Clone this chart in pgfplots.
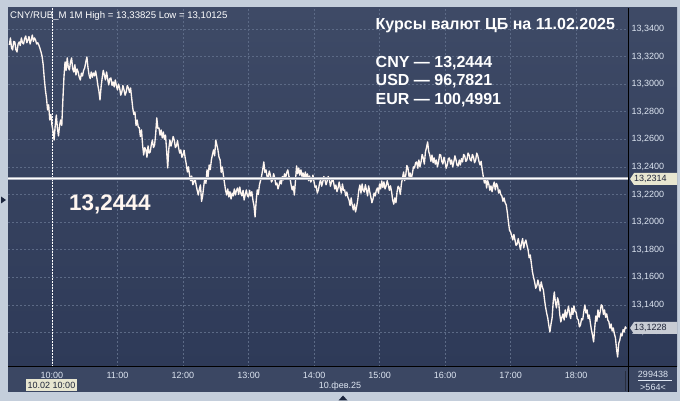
\documentclass[border=0pt]{standalone}
\usepackage{fontspec}
\setmainfont{Liberation Sans}
\usepackage{pgfplots}
\pgfplotsset{compat=1.18}
\definecolor{outer}{RGB}{196,206,219}
\definecolor{paneltop}{RGB}{62,74,102}
\definecolor{panelbot}{RGB}{46,58,88}
\definecolor{bottompanel}{RGB}{59,71,99}
\definecolor{gridc}{RGB}{92,106,134}
\definecolor{labelc}{RGB}{222,230,242}
\definecolor{linec}{RGB}{255,246,240}
\definecolor{tagbeige}{RGB}{232,230,208}
\definecolor{taggrey}{RGB}{200,204,212}
\definecolor{tagtext}{RGB}{30,36,56}
\definecolor{levelgrey}{RGB}{176,180,192}
\definecolor{darkmark}{RGB}{28,38,62}
\definecolor{sepgrey}{RGB}{40,46,62}
\begin{document}
\begin{tikzpicture}[x=1pt,y=1pt]
\useasboundingbox (0,0) rectangle (680,401);
\fill[outer] (0,0) rectangle (680,401);
\fill[bottompanel] (8,9) rectangle (677,34.5);
\shade[top color=paneltop,bottom color=panelbot] (8,34.5) rectangle (677,393);
\begin{axis}[
  at={(8pt,34pt)}, anchor=south west,
  scale only axis, width=620pt, height=359pt,
  xmin=559.76, xmax=1127.5, ymin=13.0949, ymax=13.3552,
  axis line style={draw=none},
  major tick length=0pt,
  xtick={600,660,720,780,840,900,960,1020,1080},
  xticklabels={10:00,11:00,12:00,13:00,14:00,15:00,16:00,17:00,18:00},
  ytick={13.12,13.14,13.16,13.18,13.20,13.22,13.24,13.26,13.28,13.30,13.32,13.34},
  grid=major,
  major grid style={gridc, dash pattern=on 2pt off 2pt, line width=0.5pt},
  yticklabel pos=right,
  /pgf/number format/assume math mode=true,
  ticklabel style={font=\fontsize{9}{10}\selectfont, text=labelc},
  xticklabel style={anchor=center, yshift=-8pt},
  yticklabel style={anchor=west, /pgf/number format/fixed, /pgf/number format/fixed zerofill, /pgf/number format/precision=4, /pgf/number format/use comma, /pgf/number format/1000 sep={}},
]
\draw[white, line width=0.8pt, dash pattern=on 1.5pt off 1.5pt] (axis cs:600,13.0949) -- (axis cs:600,13.3552);
\addplot[linec, line width=1.35pt, line join=round, no marks] coordinates {
(561,13.3284)(562,13.3335)(563,13.3262)(564,13.3248)(565,13.3310)(566,13.3306)(567,13.3250)(568,13.3233)(569,13.3290)(570,13.3306)
(571,13.3280)(572,13.3335)(573,13.3300)(574,13.3291)(575,13.3330)(576,13.3349)(577,13.3300)(578,13.3320)(579,13.3345)(580,13.3291)
(581,13.3320)(582,13.3356)(583,13.3310)(584,13.3335)(585,13.3320)(586,13.3291)(587,13.3300)(588,13.3284)(589,13.3260)(590,13.3233)
(591,13.3200)(592,13.3139)(593,13.3040)(594,13.2958)(595,13.2900)(596,13.2813)(597,13.2850)(598,13.2740)(599,13.2780)(600,13.2704)
(601,13.2660)(602,13.2595)(603,13.2700)(604,13.2776)(605,13.2680)(606,13.2624)(607,13.2700)(608,13.2740)(609,13.2700)(610,13.2885)
(611,13.3050)(612,13.3161)(613,13.3100)(614,13.3190)(615,13.3120)(616,13.3103)(617,13.3160)(618,13.3190)(619,13.3110)(620,13.3088)
(621,13.3140)(622,13.3066)(623,13.3110)(624,13.3088)(625,13.3050)(626,13.3030)(627,13.3080)(628,13.3059)(629,13.3100)(630,13.3117)
(631,13.3160)(632,13.3197)(633,13.3120)(634,13.3066)(635,13.3040)(636,13.3088)(637,13.3050)(638,13.3081)(639,13.3060)(640,13.3095)
(641,13.3050)(642,13.2994)(643,13.2950)(644,13.2885)(645,13.2980)(646,13.3045)(647,13.3100)(648,13.3066)(649,13.3030)(650,13.3088)
(651,13.3040)(652,13.2994)(653,13.3040)(654,13.3045)(655,13.2990)(656,13.3016)(657,13.2980)(658,13.3030)(659,13.2990)(660,13.2958)
(661,13.3000)(662,13.2972)(663,13.2920)(664,13.2943)(665,13.2990)(666,13.2958)(667,13.2920)(668,13.2943)(669,13.2990)(670,13.2972)
(671,13.2940)(672,13.2972)(673,13.2900)(674,13.2827)(675,13.2780)(676,13.2798)(677,13.2700)(678,13.2740)(679,13.2690)(680,13.2682)
(681,13.2620)(682,13.2668)(683,13.2560)(684,13.2486)(685,13.2540)(686,13.2523)(687,13.2470)(688,13.2552)(689,13.2500)(690,13.2508)
(691,13.2560)(692,13.2595)(693,13.2540)(694,13.2559)(695,13.2640)(696,13.2755)(697,13.2680)(698,13.2682)(699,13.2630)(700,13.2668)
(701,13.2610)(702,13.2653)(703,13.2600)(704,13.2631)(705,13.2520)(706,13.2392)(707,13.2530)(708,13.2595)(709,13.2550)(710,13.2581)
(711,13.2620)(712,13.2595)(713,13.2540)(714,13.2552)(715,13.2590)(716,13.2537)(717,13.2500)(718,13.2523)(719,13.2470)(720,13.2486)
(721,13.2520)(722,13.2465)(723,13.2420)(724,13.2363)(725,13.2400)(726,13.2341)(727,13.2300)(728,13.2334)(729,13.2270)(730,13.2291)
(731,13.2320)(732,13.2269)(733,13.2230)(734,13.2196)(735,13.2240)(736,13.2269)(737,13.2150)(738,13.2189)(739,13.2260)(740,13.2320)
(741,13.2280)(742,13.2378)(743,13.2330)(744,13.2414)(745,13.2380)(746,13.2450)(747,13.2490)(748,13.2523)(749,13.2480)(750,13.2595)
(751,13.2560)(752,13.2523)(753,13.2470)(754,13.2450)(755,13.2360)(756,13.2399)(757,13.2340)(758,13.2283)(759,13.2230)(760,13.2196)
(761,13.2240)(762,13.2182)(763,13.2220)(764,13.2167)(765,13.2210)(766,13.2189)(767,13.2240)(768,13.2196)(769,13.2230)(770,13.2247)
(771,13.2200)(772,13.2254)(773,13.2210)(774,13.2189)(775,13.2230)(776,13.2160)(777,13.2200)(778,13.2233)(779,13.2190)(780,13.2182)
(781,13.2230)(782,13.2189)(783,13.2220)(784,13.2160)(785,13.2120)(786,13.2037)(787,13.2150)(788,13.2233)(789,13.2200)(790,13.2269)
(791,13.2300)(792,13.2334)(793,13.2380)(794,13.2436)(795,13.2360)(796,13.2378)(797,13.2330)(798,13.2320)(799,13.2370)(800,13.2341)
(801,13.2290)(802,13.2305)(803,13.2350)(804,13.2320)(805,13.2270)(806,13.2283)(807,13.2240)(808,13.2269)(809,13.2300)(810,13.2276)
(811,13.2330)(812,13.2305)(813,13.2350)(814,13.2320)(815,13.2360)(816,13.2378)(817,13.2330)(818,13.2320)(819,13.2270)(820,13.2233)
(821,13.2260)(822,13.2196)(823,13.2300)(824,13.2407)(825,13.2350)(826,13.2392)(827,13.2340)(828,13.2378)(829,13.2330)(830,13.2356)
(831,13.2310)(832,13.2363)(833,13.2320)(834,13.2349)(835,13.2300)(836,13.2334)(837,13.2290)(838,13.2305)(839,13.2340)(840,13.2291)
(841,13.2250)(842,13.2262)(843,13.2210)(844,13.2233)(845,13.2280)(846,13.2305)(847,13.2260)(848,13.2291)(849,13.2330)(850,13.2305)
(851,13.2270)(852,13.2298)(853,13.2330)(854,13.2312)(855,13.2260)(856,13.2291)(857,13.2320)(858,13.2283)(859,13.2240)(860,13.2269)
(861,13.2220)(862,13.2247)(863,13.2290)(864,13.2247)(865,13.2210)(866,13.2276)(867,13.2230)(868,13.2233)(869,13.2190)(870,13.2218)
(871,13.2180)(872,13.2160)(873,13.2120)(874,13.2175)(875,13.2120)(876,13.2088)(877,13.2130)(878,13.2073)(879,13.2110)(880,13.2160)
(881,13.2230)(882,13.2269)(883,13.2210)(884,13.2276)(885,13.2230)(886,13.2218)(887,13.2270)(888,13.2233)(889,13.2190)(890,13.2262)
(891,13.2220)(892,13.2182)(893,13.2140)(894,13.2167)(895,13.2210)(896,13.2189)(897,13.2230)(898,13.2247)(899,13.2210)(900,13.2276)
(901,13.2240)(902,13.2298)(903,13.2250)(904,13.2291)(905,13.2240)(906,13.2262)(907,13.2300)(908,13.2269)(909,13.2230)(910,13.2262)
(911,13.2220)(912,13.2160)(913,13.2130)(914,13.2175)(915,13.2140)(916,13.2218)(917,13.2260)(918,13.2247)(919,13.2200)(920,13.2276)
(921,13.2320)(922,13.2363)(923,13.2300)(924,13.2341)(925,13.2410)(926,13.2392)(927,13.2330)(928,13.2356)(929,13.2310)(930,13.2349)
(931,13.2400)(932,13.2392)(933,13.2430)(934,13.2436)(935,13.2390)(936,13.2450)(937,13.2400)(938,13.2436)(939,13.2490)(940,13.2465)
(941,13.2420)(942,13.2508)(943,13.2540)(944,13.2581)(945,13.2510)(946,13.2486)(947,13.2440)(948,13.2486)(949,13.2430)(950,13.2465)
(951,13.2420)(952,13.2450)(953,13.2400)(954,13.2436)(955,13.2490)(956,13.2486)(957,13.2440)(958,13.2421)(959,13.2470)(960,13.2436)
(961,13.2390)(962,13.2414)(963,13.2460)(964,13.2465)(965,13.2420)(966,13.2450)(967,13.2400)(968,13.2436)(969,13.2480)(970,13.2450)
(971,13.2410)(972,13.2407)(973,13.2450)(974,13.2414)(975,13.2460)(976,13.2436)(977,13.2490)(978,13.2479)(979,13.2440)(980,13.2450)
(981,13.2500)(982,13.2486)(983,13.2450)(984,13.2443)(985,13.2490)(986,13.2472)(987,13.2430)(988,13.2450)(989,13.2500)(990,13.2479)
(991,13.2440)(992,13.2414)(993,13.2440)(994,13.2378)(995,13.2330)(996,13.2283)(997,13.2320)(998,13.2247)(999,13.2300)(1000,13.2276)
(1001,13.2230)(1002,13.2262)(1003,13.2220)(1004,13.2262)(1005,13.2290)(1006,13.2233)(1007,13.2280)(1008,13.2262)(1009,13.2210)(1010,13.2233)
(1011,13.2200)(1012,13.2189)(1013,13.2150)(1014,13.2175)(1015,13.2140)(1016,13.2124)(1017,13.2070)(1018,13.2001)(1019,13.1940)(1020,13.1928)
(1021,13.1900)(1022,13.1870)(1023,13.1910)(1024,13.1870)(1025,13.1830)(1026,13.1841)(1027,13.1880)(1028,13.1841)(1029,13.1800)(1030,13.1848)
(1031,13.1880)(1032,13.1812)(1033,13.1850)(1034,13.1870)(1035,13.1830)(1036,13.1798)(1037,13.1740)(1038,13.1761)(1039,13.1700)(1040,13.1638)
(1041,13.1600)(1042,13.1566)(1043,13.1520)(1044,13.1537)(1045,13.1580)(1046,13.1544)(1047,13.1500)(1048,13.1566)(1049,13.1530)(1050,13.1508)
(1051,13.1440)(1052,13.1384)(1053,13.1340)(1054,13.1305)(1055,13.1250)(1056,13.1203)(1057,13.1260)(1058,13.1305)(1059,13.1420)(1060,13.1493)
(1061,13.1420)(1062,13.1377)(1063,13.1450)(1064,13.1421)(1065,13.1330)(1066,13.1276)(1067,13.1310)(1068,13.1334)(1069,13.1290)(1070,13.1363)
(1071,13.1310)(1072,13.1348)(1073,13.1390)(1074,13.1334)(1075,13.1300)(1076,13.1377)(1077,13.1330)(1078,13.1392)(1079,13.1350)(1080,13.1348)
(1081,13.1300)(1082,13.1290)(1083,13.1240)(1084,13.1254)(1085,13.1300)(1086,13.1290)(1087,13.1350)(1088,13.1399)(1089,13.1340)(1090,13.1363)
(1091,13.1300)(1092,13.1326)(1093,13.1270)(1094,13.1218)(1095,13.1180)(1096,13.1131)(1097,13.1230)(1098,13.1319)(1099,13.1280)(1100,13.1363)
(1101,13.1310)(1102,13.1348)(1103,13.1400)(1104,13.1392)(1105,13.1330)(1106,13.1363)(1107,13.1310)(1108,13.1334)(1109,13.1290)(1110,13.1276)
(1111,13.1230)(1112,13.1261)(1113,13.1210)(1114,13.1232)(1115,13.1190)(1116,13.1160)(1117,13.1080)(1118,13.1022)(1119,13.1120)(1120,13.1145)
(1121,13.1190)(1122,13.1174)(1123,13.1220)(1124,13.1203)(1125,13.1240)(1126,13.1228)
};
\draw[levelgrey, line width=3.2pt] (axis cs:559.76,13.2314) -- (axis cs:1127.5,13.2314);
\draw[white, line width=1.4pt] (axis cs:559.76,13.2314) -- (axis cs:1127.5,13.2314);
\end{axis}
% frame lines
\draw[black, line width=1pt] (628.5,9) -- (628.5,393);
\draw[black, line width=1pt] (8,34.3) -- (677,34.3);
\draw[sepgrey, line width=0.6pt] (625,10) -- (625,30);
% price tags
\fill[tagbeige] (630,222) -- (634,228) -- (677,228) -- (677,216) -- (634,216) -- cycle;
\node[anchor=west, inner sep=0pt, text=tagtext, font=\fontsize{9}{10}\selectfont] at (634,222) {13,2314};
\fill[taggrey] (630,73) -- (634,79) -- (677,79) -- (677,67) -- (634,67) -- cycle;
\node[anchor=west, inner sep=0pt, text=tagtext, font=\fontsize{9}{10}\selectfont] at (634,73) {13,1228};
% bottom labels
\fill[tagbeige] (25.7,10) rectangle (77.3,22);
\node[text=tagtext, inner sep=0pt, font=\fontsize{9}{10}\selectfont] at (51.5,16) {10.02 10:00};
\node[text=labelc, inner sep=0pt, font=\fontsize{9}{10}\selectfont] at (340,15) {10.фев.25};
\node[text=labelc, inner sep=0pt, font=\fontsize{9}{10}\selectfont] at (653,27) {299438};
\draw[labelc, line width=0.5pt] (638,20.5) -- (672,20.5);
\node[text=labelc, inner sep=0pt, font=\fontsize{9}{10}\selectfont] at (653,14) {>564<};
% header
\node[anchor=west, inner sep=0pt, text=white, font=\fontsize{9.6}{11}\selectfont] at (10,385) {CNY/RUB\_M 1M High = 13,33825 Low = 13,10125};
% overlay texts
\node[anchor=west, inner sep=0pt, text=white, font=\bfseries\fontsize{16}{19}\selectfont] at (375.5,375.5) {Курсы валют ЦБ на 11.02.2025};
\node[anchor=west, inner sep=0pt, text=white, font=\bfseries\fontsize{16}{19}\selectfont] at (375.5,338) {CNY — 13,2444};
\node[anchor=west, inner sep=0pt, text=white, font=\bfseries\fontsize{16}{19}\selectfont] at (375.5,319.5) {USD — 96,7821};
\node[anchor=west, inner sep=0pt, text=white, font=\bfseries\fontsize{16}{19}\selectfont] at (375.5,301) {EUR — 100,4991};
\node[anchor=west, inner sep=0pt, text=linec, font=\bfseries\fontsize{22.5}{26}\selectfont] at (69,197) {13,2444};
% markers
\fill[darkmark] (1,204.5) -- (6,201) -- (1,197.5) -- cycle;
\fill[darkmark] (338.5,0.5) -- (347.5,0.5) -- (343,5.5) -- cycle;
\end{tikzpicture}
\end{document}
